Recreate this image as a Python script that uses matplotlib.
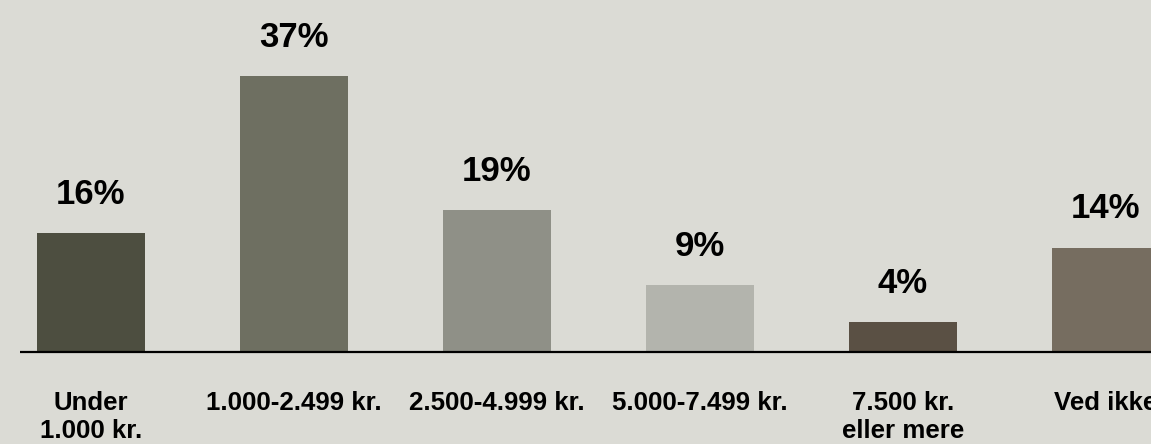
import matplotlib
matplotlib.use("Agg")
import matplotlib.pyplot as plt

categories = ["Under\n1.000 kr.", "1.000-2.499 kr.", "2.500-4.999 kr.",
              "5.000-7.499 kr.", "7.500 kr.\neller mere", "Ved ikke"]
values = [16, 37, 19, 9, 4, 14]
colors = ["#4d4e40", "#6e6f61", "#8f9087", "#b3b4ad", "#5a5044", "#766d60"]

bg = "#dbdbd5"
plt.rcParams["font.family"] = ["Liberation Sans", "DejaVu Sans"]

fig = plt.figure(figsize=(11.51, 4.44), dpi=100, facecolor=bg)
ax = fig.add_axes([0, 92 / 444, 1, 352 / 444])
ax.set_facecolor(bg)

x = list(range(len(values)))
bars = ax.bar(x, values, width=0.532, color=colors, zorder=2)

ax.set_xlim(-0.448, 5.222)
ax.set_ylim(0, 47.2)
ax.axis("off")

# baseline
ax.plot([-0.35, 5.5], [0, 0], color="black", lw=1.6, zorder=3,
        solid_capstyle="butt", clip_on=False)

for xi, v in zip(x, values):
    ax.annotate(f"{v}%", (xi, v), xytext=(0, 21), textcoords="offset points",
                ha="center", va="baseline", fontsize=25, fontweight="bold",
                color="black")

for xi, lab in zip(x, categories):
    ax.annotate(lab, (xi, 0), xytext=(0, -28), textcoords="offset points",
                ha="center", va="top", fontsize=18.6, fontweight="bold",
                color="black", linespacing=1.2, annotation_clip=False)

fig.savefig("out.png", dpi=100, facecolor=bg)
